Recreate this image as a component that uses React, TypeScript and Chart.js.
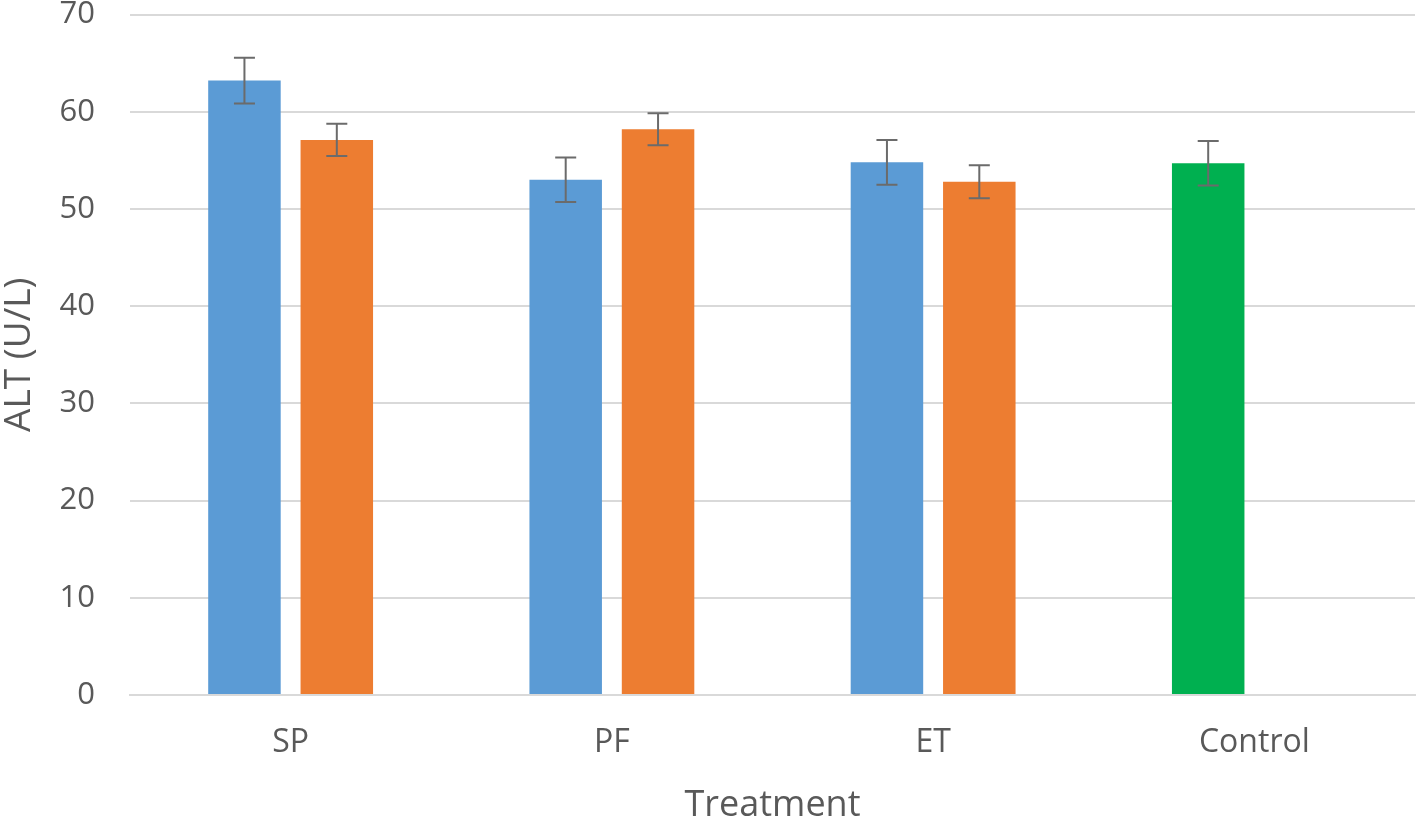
import React, { useEffect, useRef } from "react";
import { Chart, registerables } from "chart.js";

Chart.register(...registerables);

const categories = ["SP", "PF", "ET", "Control"];
const seriesA = [63.2, 53.0, 54.8, 54.7];
const seriesAErr = [2.35, 2.3, 2.3, 2.3];
const seriesB: (number | null)[] = [57.1, 58.2, 52.8, null];
const seriesBErr: (number | null)[] = [1.65, 1.65, 1.7, null];
const yTicks = [0, 10, 20, 30, 40, 50, 60, 70];

const BLUE = "#5b9bd5";
const ORANGE = "#ed7d31";
const GREEN = "#00b050";
const TEXT = "#595959";
const FONT = "'Open Sans', 'Noto Sans', sans-serif";

const errorBarPlugin = {
  id: "errorBars",
  afterDatasetsDraw(chart: any) {
    const ctx = chart.ctx;
    const y = chart.scales.y;
    chart.data.datasets.forEach((ds: any, di: number) => {
      const meta = chart.getDatasetMeta(di);
      const errs = ds.errors as (number | null)[];
      if (!errs) return;
      meta.data.forEach((bar: any, i: number) => {
        const v = ds.data[i];
        const e = errs[i];
        if (v == null || e == null) return;
        const top = y.getPixelForValue(v + e);
        const bot = y.getPixelForValue(v - e);
        const x = bar.x;
        ctx.save();
        ctx.strokeStyle = "#6b6b6b";
        ctx.lineWidth = 2;
        ctx.beginPath();
        ctx.moveTo(x, top);
        ctx.lineTo(x, bot);
        ctx.moveTo(x - 10.5, top);
        ctx.lineTo(x + 10.5, top);
        ctx.moveTo(x - 10.5, bot);
        ctx.lineTo(x + 10.5, bot);
        ctx.stroke();
        ctx.restore();
      });
    });
  },
};

export default function App() {
  const ref = useRef<HTMLCanvasElement>(null);
  useEffect(() => {
    if (!ref.current) return;
    const chart = new Chart(ref.current, {
      type: "bar",
      data: {
        labels: categories,
        datasets: [
          {
            label: "A",
            data: seriesA,
            errors: seriesAErr,
            backgroundColor: categories.map((c) => (c === "Control" ? GREEN : BLUE)),
            categoryPercentage: 0.575,
            barPercentage: 0.785,
          } as any,
          {
            label: "B",
            data: seriesB,
            errors: seriesBErr,
            backgroundColor: ORANGE,
            categoryPercentage: 0.575,
            barPercentage: 0.785,
          } as any,
        ],
      },
      plugins: [errorBarPlugin],
      options: {
        animation: false,
        responsive: false,
        maintainAspectRatio: false,
        layout: { padding: { top: 14.5, right: 3, left: 0, bottom: 0 } },
        plugins: { legend: { display: false }, tooltip: { enabled: false } },
        scales: {
          x: {
            grid: { display: false, drawTicks: false },
            border: { display: true, color: "#d9d9d9", width: 2 },
            ticks: { color: TEXT, font: { family: FONT, size: 32 }, padding: 29 },
            title: {
              display: true,
              text: "Treatment",
              color: TEXT,
              font: { family: FONT, size: 36, lineHeight: 0.89 },
              padding: { top: 6, bottom: 0 },
            },
            afterFit(scale: any) {
              scale.height = 127;
              scale.paddingLeft = 0;
              scale.paddingRight = 0;
            },
          },
          y: {
            min: 0,
            max: 70,
            afterBuildTicks(scale: any) {
              scale.ticks = yTicks.map((v) => ({ value: v }));
            },
            grid: { color: "#d9d9d9", lineWidth: 2, drawTicks: false },
            border: { display: false },
            ticks: { color: TEXT, font: { family: FONT, size: 31 }, padding: 35 },
            title: {
              display: true,
              text: "ALT (U/L)",
              color: TEXT,
              font: { family: FONT, size: 37, lineHeight: 1.05 },
              padding: { top: 0, bottom: 0 },
            },
            afterFit(scale: any) {
              scale.width = 130;
              scale.paddingTop = 0;
              scale.paddingBottom = 0;
            },
          },
        },
      },
    });
    return () => chart.destroy();
  }, []);
  return (
    <div style={{ position: "fixed", left: 0, top: 0, width: 1418, height: 822, background: "#fff" }}>
      <canvas ref={ref} width={1418} height={822} style={{ width: 1418, height: 822 }} />
    </div>
  );
}
